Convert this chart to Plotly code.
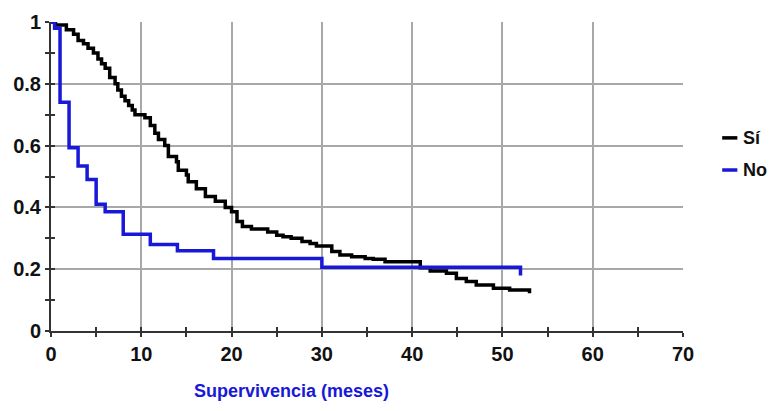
import plotly.graph_objects as go

# Kaplan-Meier style step data (time in months, survival proportion)
si_t = [0, 0.5, 1.7, 2.5, 3.0, 3.6, 4.1, 4.7, 5.2, 5.6, 6.0, 6.5, 7.1, 7.4, 7.8, 8.2, 8.6, 9.0, 9.3,
        10.4, 11.0, 11.5, 11.9, 12.6, 13.0, 13.9, 14.1, 15.0, 15.2, 16.1, 17.1, 18.2, 19.3, 20.0,
        20.6, 21.2, 22.2, 24.0, 25.0, 25.7, 26.6, 27.8, 28.7, 29.4, 31.1, 32.0, 33.3, 34.8, 35.7,
        37.0, 40.9, 42.0, 43.8, 44.9, 46.0, 47.1, 49.0, 50.8, 53.0]
si_s = [1.0, 0.99, 0.975, 0.96, 0.94, 0.93, 0.915, 0.90, 0.88, 0.865, 0.85, 0.82, 0.80, 0.78, 0.76,
        0.745, 0.73, 0.715, 0.70, 0.69, 0.665, 0.64, 0.62, 0.60, 0.565, 0.548, 0.52, 0.505, 0.483,
        0.46, 0.435, 0.42, 0.40, 0.386, 0.354, 0.338, 0.33, 0.32, 0.31, 0.305, 0.30, 0.29, 0.283,
        0.275, 0.257, 0.246, 0.24, 0.235, 0.232, 0.224, 0.205, 0.194, 0.187, 0.17, 0.16, 0.149,
        0.138, 0.133, 0.122]

no_t = [0, 0.4, 1, 2, 3, 4, 5, 6, 8, 11, 14, 18, 30, 52]
no_s = [1.0, 0.98, 0.74, 0.593, 0.534, 0.49, 0.41, 0.386, 0.313, 0.28, 0.26, 0.235, 0.206, 0.18]

series_names = ["Sí", "No"]
x_ticks = [0, 10, 20, 30, 40, 50, 60, 70]
y_ticks = [0, 0.2, 0.4, 0.6, 0.8, 1]
y_labels = ["0", "0.2", "0.4", "0.6", "0.8", "1"]
x_title = "Supervivencia (meses)"

FONT = "Liberation Sans"
BLUE = "#1818d8"
colors = ["#000000", BLUE]

fig = go.Figure()
fig.add_trace(go.Scatter(x=si_t, y=si_s, mode="lines", line=dict(color=colors[0], width=3.5, shape="hv"),
                         name=series_names[0], showlegend=False))
fig.add_trace(go.Scatter(x=no_t, y=no_s, mode="lines", line=dict(color=colors[1], width=3.5, shape="hv"),
                         name=series_names[1], showlegend=False))

TICKC = "#333333"
axis_common = dict(showline=True, linecolor=TICKC, linewidth=2, mirror=False,
                   gridcolor="#a8a8a8", gridwidth=1.5, zeroline=False,
                   tickfont=dict(family=FONT, size=20, color="#111111", weight="bold"))

# manual legend (short line samples as in the reference)
shapes = []
annotations = []
leg_y = [0.625, 0.521]
for name, col, yy in zip(series_names, colors, leg_y):
    shapes.append(dict(type="line", xref="paper", yref="paper", x0=1.062, x1=1.086, y0=yy, y1=yy,
                       line=dict(color=col, width=3.5)))
    annotations.append(dict(text=name, x=1.091, y=yy, xref="paper", yref="paper", xanchor="left",
                            yanchor="middle", showarrow=False,
                            font=dict(family=FONT, size=18, color="#111111", weight="bold")))
annotations.append(dict(text=x_title, x=0.38, y=-0.193, xref="paper", yref="paper",
                        xanchor="center", yanchor="middle", showarrow=False,
                        font=dict(family=FONT, size=18, color=BLUE, weight="bold")))

fig.update_layout(
    width=768, height=395,
    margin=dict(l=43, r=93, t=14, b=72, autoexpand=False),
    paper_bgcolor="white", plot_bgcolor="white",
    showlegend=False,
    xaxis=dict(range=[0, 70], tickvals=x_ticks, ticks="outside", ticklen=4, tickwidth=2,
               tickcolor=TICKC,
               minor=dict(dtick=5, ticks="outside", ticklen=4, tickwidth=2, tickcolor=TICKC,
                          showgrid=False),
               **axis_common),
    yaxis=dict(range=[0, 1], tickvals=y_ticks, ticktext=y_labels, ticks="outside", ticklen=4,
               tickwidth=2, tickcolor=TICKC,
               minor=dict(dtick=0.1, ticks="outside", ticklen=4, tickwidth=2, tickcolor=TICKC,
                          showgrid=False),
               **axis_common),
    xaxis2=dict(overlaying="x", matches="x", range=[0, 70], tickvals=x_ticks, ticks="inside",
                ticklen=4, tickwidth=2, tickcolor=TICKC, showticklabels=False,
                showgrid=False, zeroline=False, side="bottom",
                minor=dict(dtick=5, ticks="inside", ticklen=4, tickwidth=2, tickcolor=TICKC)),
    yaxis2=dict(overlaying="y", matches="y", range=[0, 1], tickvals=y_ticks, ticks="inside",
                ticklen=4, tickwidth=2, tickcolor=TICKC, showticklabels=False,
                showgrid=False, zeroline=False, side="left",
                minor=dict(dtick=0.1, ticks="inside", ticklen=4, tickwidth=2, tickcolor=TICKC)),
    shapes=shapes,
    annotations=annotations,
)

# invisible trace to activate the secondary (tick-only) axes
fig.add_trace(go.Scatter(x=[0], y=[0], xaxis="x2", yaxis="y2", mode="markers",
                         marker=dict(opacity=0), showlegend=False, hoverinfo="skip"))

fig.write_html("out.html")
